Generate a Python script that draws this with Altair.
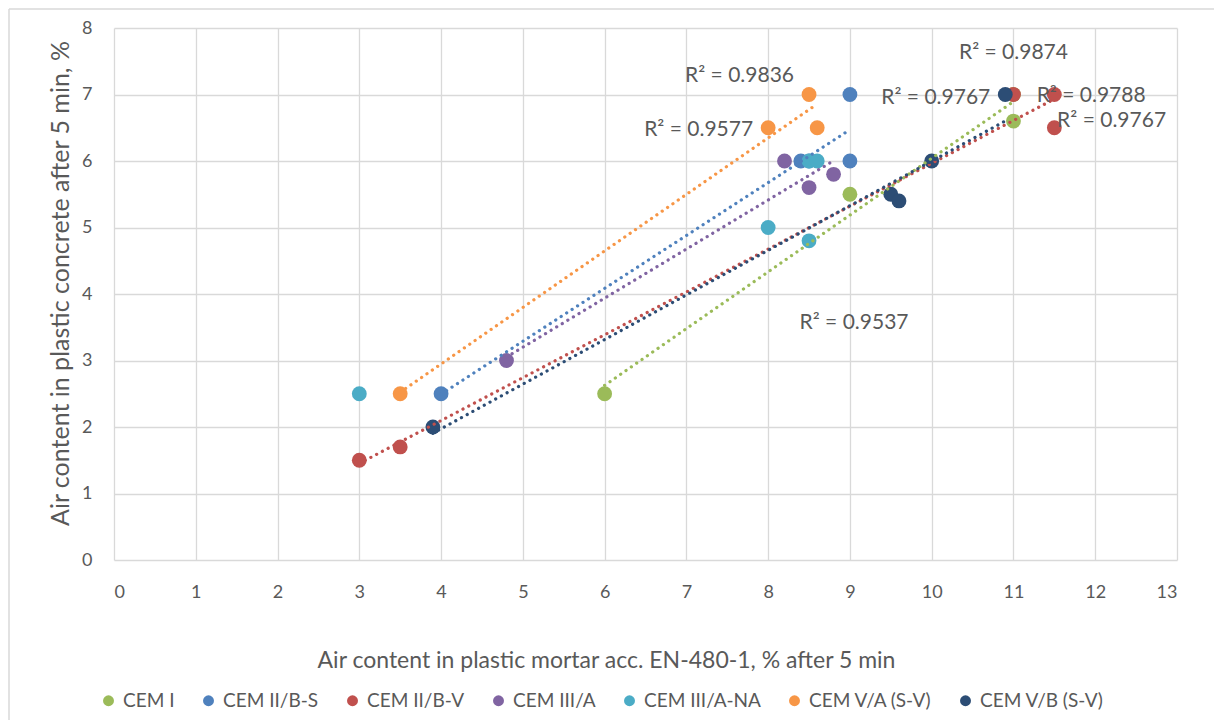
import altair as alt
import pandas as pd

FONT = "Lato"
TXT = "#595959"
GRID = "#d9d9d9"

series_names = ["CEM I", "CEM II/B-S", "CEM II/B-V", "CEM III/A",
                "CEM III/A-NA", "CEM V/A (S-V)", "CEM V/B (S-V)"]
series_colors = ["#9BBB59", "#4F81BD", "#C0504D", "#8064A2",
                 "#4BACC6", "#F79646", "#2C4D75"]

cem1_x = [6, 9, 11, 11]
cem1_y = [2.5, 5.5, 6.6, 7.0]
cem2bs_x = [4, 8.4, 8.5, 9, 9]
cem2bs_y = [2.5, 6.0, 6.0, 7.0, 6.0]
cem2bv_x = [3, 3.5, 11, 11.5, 11.5]
cem2bv_y = [1.5, 1.7, 7.0, 7.0, 6.5]
cem3a_x = [4.8, 8.2, 8.5, 8.8]
cem3a_y = [3.0, 6.0, 5.6, 5.8]
cem3ana_x = [3, 8, 8.5, 8.5, 8.6]
cem3ana_y = [2.5, 5.0, 4.8, 6.0, 6.0]
cem5a_x = [3.5, 8, 8.5, 8.6]
cem5a_y = [2.5, 6.5, 7.0, 6.5]
cem5b_x = [3.9, 9.5, 9.6, 10, 10.9]
cem5b_y = [2.0, 5.5, 5.4, 6.0, 7.0]

# series with a linear trendline
trend_series = ["CEM I", "CEM II/B-S", "CEM II/B-V", "CEM III/A",
                "CEM V/A (S-V)", "CEM V/B (S-V)"]

label_text = ["R² = 0.9874", "R² = 0.9836", "R² = 0.9577", "R² = 0.9767",
              "R² = 0.9788", "R² = 0.9767", "R² = 0.9537"]
label_x = [11.0, 7.65, 7.15, 10.05, 11.95, 12.2, 9.05]
label_y = [7.63, 7.28, 6.46, 6.95, 6.97, 6.6, 3.57]

x_ticks = list(range(0, 14))
y_ticks = list(range(0, 9))

xs = [cem1_x, cem2bs_x, cem2bv_x, cem3a_x, cem3ana_x, cem5a_x, cem5b_x]
ys = [cem1_y, cem2bs_y, cem2bv_y, cem3a_y, cem3ana_y, cem5a_y, cem5b_y]
rows = []
for name, sx, sy in zip(series_names, xs, ys):
    for a, b in zip(sx, sy):
        rows.append({"series": name, "x": a, "y": b})
df = pd.DataFrame(rows)
labels = pd.DataFrame({"t": label_text, "x": label_x, "y": label_y})

xscale = alt.Scale(domain=[0, 13], nice=False, zero=True)
yscale = alt.Scale(domain=[0, 8], nice=False, zero=True)

xaxis = alt.Axis(values=x_ticks, format="d", title="Air content in plastic mortar acc. EN-480-1, % after 5 min",
                 grid=True, gridColor=GRID, gridWidth=1.3, domain=False, ticks=False, tickSize=0,
                 labelPadding=23, labelFont=FONT, labelFontSize=18, labelColor=TXT,
                 titleFont=FONT, titleFontSize=23, titleFontWeight="normal", titleColor=TXT,
                 titleX=492, titleY=100, titleBaseline="middle")
yaxis = alt.Axis(values=y_ticks, format="d", title="Air content in plastic concrete after 5 min, %",
                 grid=True, gridColor=GRID, gridWidth=1.3, domain=False, ticks=False, tickSize=0,
                 labelPadding=22, labelFont=FONT, labelFontSize=18, labelColor=TXT,
                 titleFont=FONT, titleFontSize=25, titleFontWeight="normal", titleColor=TXT,
                 titleX=-54, titleY=255, titleBaseline="middle", titleAngle=270)

points = alt.Chart(df).mark_point(filled=True, opacity=1, size=220, shape="circle").encode(
    x=alt.X("x:Q", scale=xscale, axis=xaxis),
    y=alt.Y("y:Q", scale=yscale, axis=yaxis),
    color=alt.Color("series:N", scale=alt.Scale(domain=series_names, range=series_colors),
                    legend=alt.Legend(orient="none", legendX=-15, legendY=663, direction="horizontal",
                                      columns=7, title=None, labelFont=FONT, labelFontSize=19,
                                      labelColor=TXT, symbolType="circle", symbolSize=120,
                                      symbolStrokeWidth=0, labelOffset=5, columnPadding=24)),
    order=alt.Order("idx:Q"),
).transform_window(idx="row_number()")

layers = [points]
for name, col in zip(series_names, series_colors):
    if name not in trend_series:
        continue
    ln = alt.Chart(df).transform_filter(alt.datum.series == name).transform_regression(
        "x", "y", method="linear"
    ).mark_line(color=col, strokeWidth=3.2, strokeDash=[0.1, 6.4], strokeCap="round").encode(
        x=alt.X("x:Q", scale=xscale), y=alt.Y("y:Q", scale=yscale))
    layers.append(ln)

texts = alt.Chart(labels).mark_text(font=FONT, fontSize=21, color=TXT).encode(
    x=alt.X("x:Q", scale=xscale), y=alt.Y("y:Q", scale=yscale), text="t:N")
layers.append(texts)

frame = alt.Data(values=[{"a": 1}])
left_border = alt.Chart(frame).mark_rule(color=GRID, strokeWidth=1.5).encode(
    x=alt.value(-105), y=alt.value(-19), y2=alt.value(692))
top_border = alt.Chart(frame).mark_rule(color=GRID, strokeWidth=1.5).encode(
    x=alt.value(-105), x2=alt.value(1100), y=alt.value(-19))
layers += [left_border, top_border]

chart = alt.layer(*layers).properties(
    width=1063, height=532,
    autosize=alt.AutoSizeParams(type="none"),
    padding={"left": 114, "top": 28, "right": 37, "bottom": 160},
    background="white",
).configure_view(stroke=None)

chart.save("out.html", embed_options={"renderer": "svg", "actions": False})
